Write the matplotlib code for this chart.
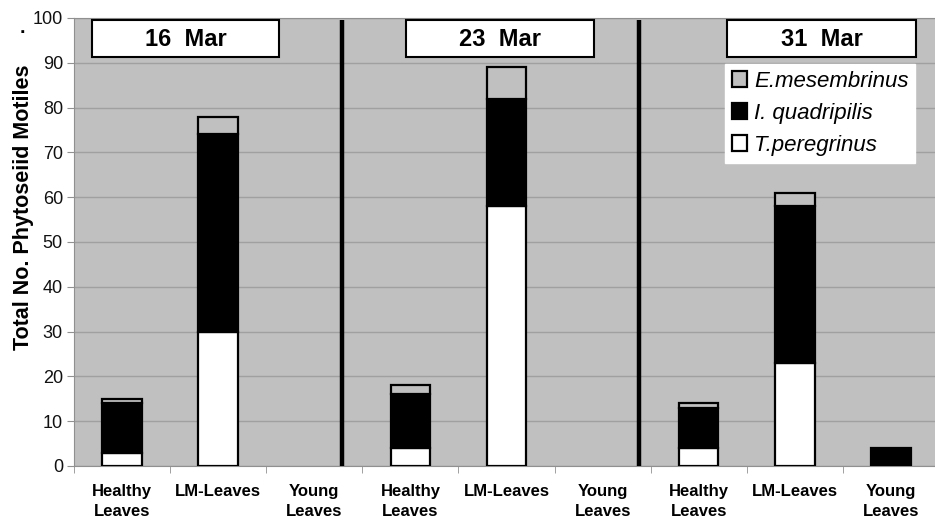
import numpy as np
import matplotlib.pyplot as plt
from matplotlib.patches import Rectangle

plt.rcParams['font.family'] = ['Liberation Sans', 'DejaVu Sans']

# data
categories = ['Healthy\nLeaves', 'LM-Leaves', 'Young\nLeaves'] * 3
dates = ['16  Mar', '23  Mar', '31  Mar']
t_peregrinus = [3, 30, 0, 4, 58, 0, 4, 23, 0]
i_quadripilis = [11, 44, 0, 12, 24, 0, 9, 35, 4]
e_mesembrinus = [1, 4, 0, 2, 7, 0, 1, 3, 0]

x = np.arange(len(categories))
t = np.array(t_peregrinus)
iq = np.array(i_quadripilis)
e = np.array(e_mesembrinus)

fig = plt.figure(figsize=(9.35, 5.2), dpi=100)
ax = fig.add_axes([74/935, 54/520, 865/935, 448/520])
ax.set_facecolor('#c0c0c0')

w = 0.41
lw = 1.6

def stack(vals, bottom, color, label):
    bars = ax.bar(x, vals, w, bottom=bottom, color=color, edgecolor='black',
                  linewidth=lw, label=label, zorder=3)
    # hide empty segments
    for b, v in zip(bars, vals):
        if v == 0:
            b.set_visible(False)
    return bars

b1 = stack(t, 0, 'white', 'T.peregrinus')
b2 = stack(iq, t, 'black', 'I. quadripilis')
b3 = stack(e, t+iq, '#c0c0c0', 'E.mesembrinus')

ax.set_xlim(-0.5, 8.5)
ax.set_ylim(0, 100)
ax.set_yticks(np.arange(0, 101, 10))
ax.yaxis.grid(True, color='#a0a0a0', linewidth=1, zorder=0)
ax.set_axisbelow(True)

ax.set_xticks(x)
ax.set_xticklabels(categories, fontweight='bold', fontsize=12, va='top', linespacing=1.45)
ax.set_xticks(np.arange(-0.5, 9, 1), minor=True)
ax.tick_params(axis='x', which='major', length=0, pad=13)
ax.tick_params(axis='x', which='minor', length=5, color='#909090')
ax.tick_params(axis='y', labelsize=13, length=5, color='#909090', labelcolor='#111111', pad=3)
for sp in ax.spines.values():
    sp.set_color('#909090')

ax.set_ylabel('Total No. Phytoseiid Motiles', fontweight='bold', fontsize=15.5)
ax.yaxis.set_label_coords(-(74-34)/865, (466-207)/448)
fig.text(22/935, 1-33/520, '.', fontsize=14, fontweight='bold', ha='center')

# group separators
for sx in [2.29, 5.38]:
    ax.plot([sx, sx], [0, 99.5], color='black', linewidth=3.2, zorder=4, solid_capstyle='butt')

# date boxes
boxes = [(92, 279), (406, 594), (727, 916)]
for (x0, x1), d in zip(boxes, dates):
    fx0, fx1 = x0/935, x1/935
    fig.patches.append(Rectangle((fx0, 1-57/520), fx1-fx0, 37/520, transform=fig.transFigure,
                                 facecolor='white', edgecolor='black', linewidth=1.5, zorder=5))
    fig.text((fx0+fx1)/2, 1-39/520, d, ha='center', va='center', fontsize=17, fontweight='bold', zorder=6)

handles = [b3, b2, b1]
leg = ax.legend(handles, [h.get_label() for h in handles], loc='upper left',
                bbox_to_anchor=(725/935, 1-64/520), bbox_transform=fig.transFigure,
                frameon=True, fancybox=False, edgecolor='white', facecolor='white', framealpha=1,
                prop={'style': 'italic', 'size': 16}, handlelength=0.7, handleheight=0.7,
                handletextpad=0.3, borderpad=0.3, labelspacing=0.5, borderaxespad=0)
leg.set_zorder(6)

plt.savefig('out.png', dpi=100)
